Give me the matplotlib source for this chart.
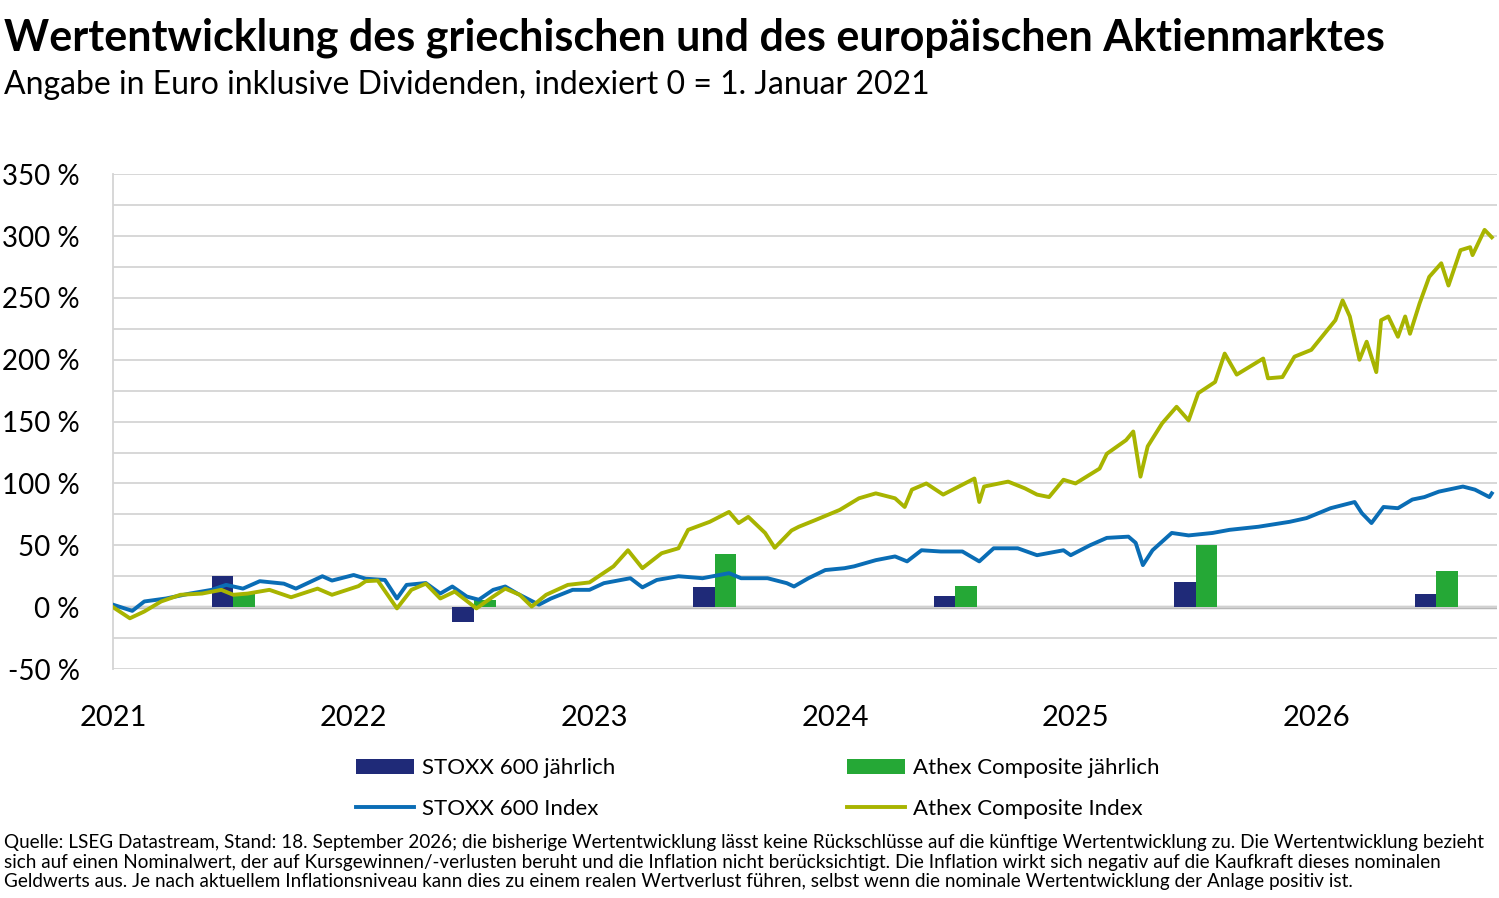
import numpy as np
import matplotlib
matplotlib.use("Agg")
import matplotlib.pyplot as plt

plt.rcParams["font.family"] = ["Lato", "DejaVu Sans"]

# Athex Composite Index (Jahr als Dezimalzahl, Wertentwicklung in %)
athex_t = [2021.0, 2021.07, 2021.13, 2021.2, 2021.28, 2021.37, 2021.45, 2021.5, 2021.56, 2021.65,
           2021.74, 2021.85, 2021.91, 2022.02, 2022.05, 2022.1, 2022.18, 2022.24, 2022.3, 2022.36,
           2022.42, 2022.51, 2022.58, 2022.63, 2022.69, 2022.74, 2022.8, 2022.89, 2022.98, 2023.08,
           2023.14, 2023.2, 2023.28, 2023.35, 2023.39, 2023.48, 2023.56, 2023.6, 2023.64, 2023.71,
           2023.75, 2023.82, 2023.85, 2023.92, 2024.02, 2024.1, 2024.17, 2024.25, 2024.29, 2024.32,
           2024.38, 2024.45, 2024.53, 2024.58, 2024.6, 2024.62, 2024.72, 2024.79, 2024.84, 2024.89,
           2024.95, 2025.0, 2025.1, 2025.13, 2025.21, 2025.24, 2025.27, 2025.3, 2025.36, 2025.42,
           2025.47, 2025.51, 2025.58, 2025.62, 2025.67, 2025.78, 2025.8, 2025.86, 2025.91, 2025.98,
           2026.03, 2026.08, 2026.11, 2026.14, 2026.18, 2026.21, 2026.25, 2026.27, 2026.3, 2026.34,
           2026.37, 2026.39, 2026.43, 2026.47, 2026.52, 2026.55, 2026.6, 2026.64, 2026.65, 2026.7,
           2026.73]
athex_v = [0, -9, -3.5, 4.6, 10, 11, 14, 10, 11, 14,
           8, 15, 10, 17, 21, 21.5, -1, 14, 19, 7,
           12.6, -1, 8.6, 15, 10, 0.5, 10, 18, 20, 33,
           46, 31.5, 43.6, 47.6, 62.5, 69, 77, 68, 73, 60,
           48, 62, 65, 70.5, 78.6, 88, 92, 88, 81, 95,
           100, 91, 99, 104, 85, 97.5, 101.5, 96, 91, 89,
           103, 100, 112, 124, 135, 142, 105.5, 130, 148.6, 162,
           151, 173, 182, 205, 188, 201, 185, 186, 202.5, 208,
           220, 232, 248, 235, 200, 214.6, 190, 232, 235, 218.6,
           235, 221, 245.6, 267, 278, 260, 288.6, 291, 284.6, 305,
           299]

# STOXX 600 Index
stoxx_t = [2021.0, 2021.08, 2021.13, 2021.22, 2021.32, 2021.41, 2021.47, 2021.54, 2021.61, 2021.71,
           2021.76, 2021.87, 2021.91, 2022.0, 2022.05, 2022.13, 2022.18, 2022.22, 2022.3, 2022.36,
           2022.41, 2022.47, 2022.52, 2022.58, 2022.63, 2022.68, 2022.77, 2022.82, 2022.91, 2022.98,
           2023.04, 2023.15, 2023.2, 2023.26, 2023.35, 2023.45, 2023.56, 2023.61, 2023.72, 2023.8,
           2023.83, 2023.89, 2023.96, 2024.04, 2024.08, 2024.17, 2024.25, 2024.3, 2024.36, 2024.44,
           2024.53, 2024.6, 2024.66, 2024.76, 2024.84, 2024.95, 2024.98, 2025.06, 2025.13, 2025.22,
           2025.25, 2025.28, 2025.32, 2025.4, 2025.47, 2025.57, 2025.64, 2025.76, 2025.89, 2025.96,
           2026.06, 2026.16, 2026.19, 2026.23, 2026.28, 2026.34, 2026.4, 2026.45, 2026.51, 2026.61,
           2026.66, 2026.72, 2026.73]
stoxx_v = [2, -3, 4.6, 7, 11, 14, 18, 15, 21, 19,
           15, 25, 21.5, 26, 23, 22, 7, 18, 19.5, 11,
           16.7, 8.6, 6, 14, 16.7, 11, 2, 7, 14, 14,
           19.4, 23.4, 16, 22, 25, 23.4, 27.5, 23.4, 23.4, 19.4,
           16.7, 23.4, 30, 31.5, 33, 38, 41, 37, 46, 45,
           45, 37, 47.6, 47.6, 42, 46, 42, 50, 56, 57,
           52, 34, 46, 60, 58, 60, 62.5, 65, 69, 72,
           80, 85, 76, 68, 81, 80, 87, 89, 93.4, 97.5,
           95, 89, 92]

# Jährliche Wertentwicklung
years = [2021, 2022, 2023, 2024, 2025, 2026]
stoxx_annual = [25.5, -12, 16, 9, 20, 11]
athex_annual = [11, 6, 43, 17, 50, 29]

navy = "#1f2a78"
green = "#25a836"
blue = "#0a6db5"
olive = "#a8b400"

fig = plt.figure(figsize=(14.99, 8.98), dpi=100)
ax = fig.add_axes([0.0754, 0.255, 0.923, 0.551])

bar_w = 0.09
pos = np.array(years) + 0.5
ax.bar(pos - bar_w / 2, stoxx_annual, width=bar_w, color=navy, label="STOXX 600 jährlich", zorder=2)
ax.bar(pos + bar_w / 2, athex_annual, width=bar_w, color=green, label="Athex Composite jährlich", zorder=2)
ax.plot(stoxx_t, stoxx_v, color=blue, lw=2.8, label="STOXX 600 Index", zorder=3)
ax.plot(athex_t, athex_v, color=olive, lw=2.8, label="Athex Composite Index", zorder=4)

ax.set_xlim(2021, 2026.75)
ax.set_ylim(-50, 350)
ax.set_yticks(np.arange(-50, 351, 25), minor=True)
ax.set_yticks(np.arange(-50, 351, 50))
ax.set_yticklabels([f"{v} %" for v in range(-50, 351, 50)], fontsize=20)
ax.grid(axis="y", which="both", color="#d4d4d4", lw=1.3, zorder=0)
ax.axhline(0, color="#b8b8b8", lw=2.5, zorder=1)
ax.tick_params(axis="y", which="both", length=0, pad=24)
ax.set_xticks(years)
ax.set_xticklabels([str(y) for y in years], fontsize=21)
ax.tick_params(axis="x", length=0, pad=26)
for s in ["top", "right", "bottom"]:
    ax.spines[s].set_visible(False)
ax.spines["left"].set_color("#d4d4d4")
ax.spines["left"].set_linewidth(1.3)

h, l = ax.get_legend_handles_labels()
order = [2, 0, 3, 1]
fig.legend([h[i] for i in order], [l[i] for i in order], ncol=2, frameon=False,
           loc="upper left", bbox_to_anchor=(0.224, 0.178), fontsize=16,
           handlelength=2.6, columnspacing=10.4, labelspacing=0.95, handletextpad=0.4)

fig.text(0.003, 0.980, "Wertentwicklung des griechischen und des europäischen Aktienmarktes",
         fontsize=31, fontweight="bold", va="top")
fig.text(0.003, 0.922, "Angabe in Euro inklusive Dividenden, indexiert 0 = 1. Januar 2021",
         fontsize=23, va="top")
fig.text(0.003, 0.04,
         "Quelle: LSEG Datastream, Stand: 18. September 2026; die bisherige Wertentwicklung lässt keine Rückschlüsse auf die künftige Wertentwicklung zu. Die Wertentwicklung bezieht\n"
         "sich auf einen Nominalwert, der auf Kursgewinnen/-verlusten beruht und die Inflation nicht berücksichtigt. Die Inflation wirkt sich negativ auf die Kaufkraft dieses nominalen\n"
         "Geldwerts aus. Je nach aktuellem Inflationsniveau kann dies zu einem realen Wertverlust führen, selbst wenn die nominale Wertentwicklung der Anlage positiv ist.",
         fontsize=13.6, va="center", linespacing=1.2)

fig.savefig("out.png", dpi=100)
